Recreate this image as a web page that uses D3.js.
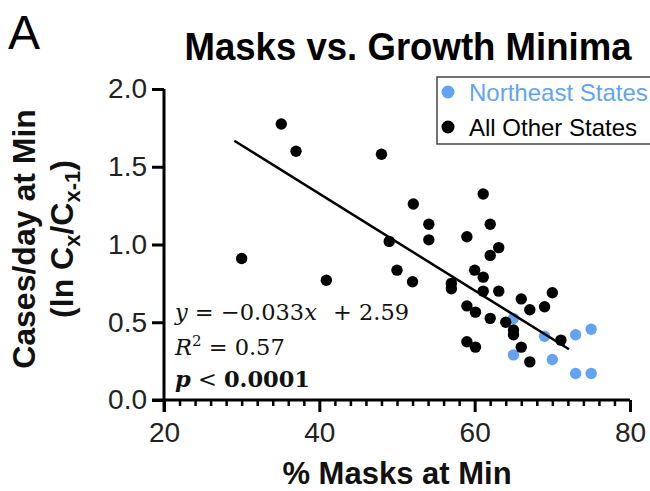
<!DOCTYPE html>
<html><head><meta charset="utf-8">
<script src="https://cdn.jsdelivr.net/npm/d3@7"></script>
<style>
html,body{margin:0;padding:0;background:#fff;}
svg{display:block;font-family:"Liberation Sans",Arial,sans-serif;}
</style></head>
<body><svg id="chart" width="650" height="491"></svg>
<script>
// ---- data ----
const otherX = [30.0,35.1,37.0,40.9,48.0,49.0,50.0,52.1,52.0,54.1,54.1,57.0,57.0,59.0,59.0,59.0,60.0,60.1,60.1,61.1,61.1,61.1,62.0,62.0,62.0,63.1,63.1,64.0,65.0,65.0,66.0,66.0,67.1,67.1,69.0,70.0,71.1];
const otherY = [0.91,1.775,1.60,0.77,1.58,1.02,0.835,1.26,0.76,1.13,1.03,0.75,0.715,1.05,0.605,0.375,0.835,0.565,0.34,1.325,0.79,0.70,1.13,0.93,0.525,0.98,0.70,0.50,0.45,0.42,0.65,0.34,0.58,0.245,0.60,0.69,0.385];
const northeastX = [65.0,65.0,69.0,70.0,73.0,75.0,73.0,75.0];
const northeastY = [0.525,0.29,0.41,0.26,0.42,0.455,0.17,0.17];
const fitX = [29.05, 72.15];
const fitY = [1.667, 0.326];
const xTicks = [20,40,60,80];
const yTicks = [0.0,0.5,1.0,1.5,2.0];
const seriesNames = ["Northeast States","All Other States"];
const seriesColors = ["#62A4F2","#000000"];

const svg = d3.select("#chart");
const x = d3.scaleLinear().domain([20,80]).range([164,630]);
const y = d3.scaleLinear().domain([0,2]).range([400,89]);

// panel letter
svg.append("text").attr("x",8).attr("y",49).attr("font-size",48).attr("fill","#000").text("A");

// title
svg.append("text").attr("x",408).attr("y",60).attr("text-anchor","middle")
  .attr("font-size",38).attr("font-weight","bold").attr("fill","#000")
  .attr("textLength",447).attr("lengthAdjust","spacingAndGlyphs")
  .text("Masks vs. Growth Minima");

// axes
const minor = d3.range(22,80,2).filter(v=>v%20!==0);
const gxMinor = svg.append("g").attr("transform","translate(0,400)")
  .call(d3.axisBottom(x).tickValues(minor).tickSize(6).tickSizeOuter(0).tickFormat(""));
gxMinor.select(".domain").remove();
gxMinor.selectAll(".tick line").attr("stroke","#000").attr("stroke-width",2.5);

const gx = svg.append("g").attr("transform","translate(0,400)")
  .call(d3.axisBottom(x).tickValues(xTicks).tickSize(12).tickSizeOuter(0).tickPadding(10).tickFormat(d3.format("d")));
gx.select(".domain").attr("stroke","#000").attr("stroke-width",3).attr("d","M152,0H630");
gx.selectAll(".tick line").attr("stroke","#000").attr("stroke-width",3);
gx.selectAll(".tick text").attr("font-size",28).attr("font-family","Liberation Sans, Arial, sans-serif").attr("fill","#222");

const gy = svg.append("g").attr("transform","translate(164,0)")
  .call(d3.axisLeft(y).tickValues(yTicks).tickSize(12).tickSizeOuter(0).tickPadding(5).tickFormat(d3.format(".1f")));
gy.select(".domain").attr("stroke","#000").attr("stroke-width",3).attr("d","M0,89V412");
gy.selectAll(".tick line").attr("stroke","#000").attr("stroke-width",3);
gy.selectAll(".tick text").attr("font-size",28).attr("font-family","Liberation Sans, Arial, sans-serif").attr("fill","#222");

// points
const ne = northeastX.map((v,i)=>({x:v,y:northeastY[i]}));
const ot = otherX.map((v,i)=>({x:v,y:otherY[i]}));
svg.append("g").selectAll("circle").data(ne).join("circle")
  .attr("cx",d=>x(d.x)).attr("cy",d=>y(d.y)).attr("r",5.7).attr("fill",seriesColors[0]);
svg.append("g").selectAll("circle").data(ot).join("circle")
  .attr("cx",d=>x(d.x)).attr("cy",d=>y(d.y)).attr("r",5.7).attr("fill",seriesColors[1]);

// fit line
svg.append("line").attr("x1",x(fitX[0])).attr("y1",y(fitY[0])).attr("x2",x(fitX[1])).attr("y2",y(fitY[1]))
  .attr("stroke","#000").attr("stroke-width",2.5);

// equation text
const eq = svg.append("g").attr("font-family","DejaVu Serif, Liberation Serif, serif").attr("font-size",22.5).attr("fill","#111");
const t1 = eq.append("text").attr("x",175).attr("y",320);
t1.append("tspan").attr("font-style","italic").text("y");
t1.append("tspan").text(" = \u22120.033");
t1.append("tspan").attr("font-style","italic").text("x");
t1.append("tspan").attr("dx",9).text("  + 2.59");
const t2 = eq.append("text").attr("x",175).attr("y",355);
t2.append("tspan").attr("font-style","italic").text("R");
t2.append("tspan").attr("font-size",15).attr("dy",-9).text("2");
t2.append("tspan").attr("dy",9).text(" = 0.57");
const t3 = eq.append("text").attr("x",175).attr("y",387);
t3.append("tspan").attr("font-style","italic").attr("font-weight","bold").text("p");
t3.append("tspan").text(" < ");
t3.append("tspan").attr("font-weight","bold").text("0.0001");

// legend
svg.append("rect").attr("x",437).attr("y",77).attr("width",220).attr("height",67)
  .attr("fill","#fff").attr("stroke","#444").attr("stroke-width",1.5);
const leg = svg.append("g");
seriesNames.forEach((n,i)=>{
  const yy = 92 + i*35;
  leg.append("circle").attr("cx",448).attr("cy",yy).attr("r",6.5).attr("fill",seriesColors[i]);
  leg.append("text").attr("x",469).attr("y",yy+9).attr("font-size",24).attr("fill",i===0?seriesColors[0]:"#000").text(n);
});

// axis titles
svg.append("text").attr("x",397).attr("y",484).attr("text-anchor","middle")
  .attr("font-size",31).attr("font-weight","bold").attr("fill","#111").text("% Masks at Min");

const yt = svg.append("g").attr("font-weight","bold").attr("fill","#111");
yt.append("text").attr("transform","translate(35,239) rotate(-90)").attr("text-anchor","middle")
  .attr("font-size",32).text("Cases/day at Min");
const yt2 = yt.append("text").attr("transform","translate(73,239) rotate(-90)").attr("text-anchor","middle").attr("font-size",32);
yt2.append("tspan").text("(ln C");
yt2.append("tspan").attr("font-size",22).attr("dy",7).text("x");
yt2.append("tspan").attr("dy",-7).text("/C");
yt2.append("tspan").attr("font-size",22).attr("dy",7).text("x-1");
yt2.append("tspan").attr("dy",-7).text(")");
</script></body></html>
